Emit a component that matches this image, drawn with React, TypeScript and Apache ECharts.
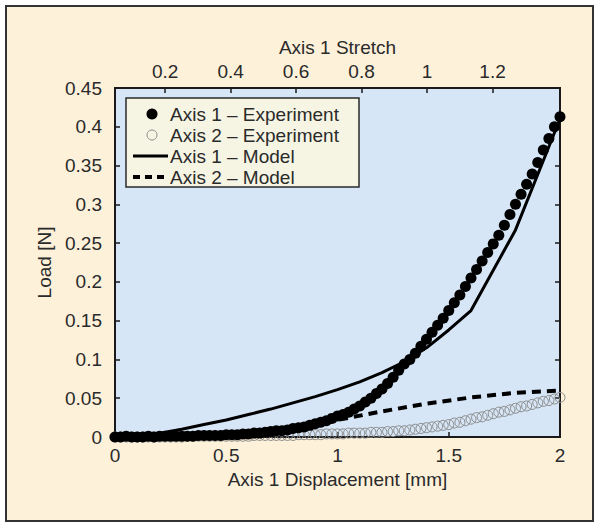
import React, { useEffect, useRef } from "react";
import * as echarts from "echarts";

const displacement = [
  0.0, 0.025, 0.05, 0.075, 0.1, 0.125, 0.15, 0.175, 0.2, 0.225,
  0.25, 0.275, 0.3, 0.325, 0.35, 0.375, 0.4, 0.425, 0.45, 0.475,
  0.5, 0.525, 0.55, 0.575, 0.6, 0.625, 0.65, 0.675, 0.7, 0.725,
  0.75, 0.775, 0.8, 0.825, 0.85, 0.875, 0.9, 0.925, 0.95, 0.975,
  1.0, 1.025, 1.05, 1.075, 1.1, 1.125, 1.15, 1.175, 1.2, 1.225,
  1.25, 1.275, 1.3, 1.325, 1.35, 1.375, 1.4, 1.425, 1.45, 1.475,
  1.5, 1.525, 1.55, 1.575, 1.6, 1.625, 1.65, 1.675, 1.7, 1.725,
  1.75, 1.775, 1.8, 1.825, 1.85, 1.875, 1.9, 1.925, 1.95, 1.975, 2.0,
];

const axis1Experiment = [
  0.0, 0.0, 0.001, 0.0, 0.0, 0.0, 0.001, 0.0, 0.001, 0.001,
  0.001, 0.001, 0.001, 0.001, 0.001, 0.002, 0.002, 0.002, 0.002, 0.002,
  0.003, 0.003, 0.003, 0.004, 0.004, 0.005, 0.005, 0.006, 0.007, 0.008,
  0.008, 0.009, 0.011, 0.012, 0.013, 0.015, 0.017, 0.019, 0.021, 0.024,
  0.027, 0.029, 0.032, 0.036, 0.04, 0.045, 0.05, 0.056, 0.062, 0.069,
  0.077, 0.086, 0.094, 0.1, 0.108, 0.117, 0.126, 0.135, 0.144, 0.153,
  0.163, 0.173, 0.183, 0.194, 0.205, 0.216, 0.227, 0.238, 0.249, 0.26,
  0.273, 0.287, 0.3, 0.313, 0.326, 0.339, 0.354, 0.37, 0.385, 0.4, 0.413,
];

const axis2Experiment = [
  0.0, 0.0, 0.0, 0.0, 0.0, 0.0, 0.0, 0.0, 0.0, 0.0,
  0.0, 0.0, 0.0, 0.001, 0.001, 0.001, 0.001, 0.001, 0.001, 0.001,
  0.001, 0.001, 0.001, 0.001, 0.001, 0.002, 0.002, 0.002, 0.002, 0.002,
  0.002, 0.002, 0.002, 0.003, 0.003, 0.003, 0.003, 0.003, 0.004, 0.004,
  0.004, 0.004, 0.005, 0.005, 0.005, 0.005, 0.006, 0.006, 0.006, 0.007,
  0.007, 0.008, 0.008, 0.009, 0.01, 0.011, 0.012, 0.013, 0.014, 0.015,
  0.016, 0.018, 0.019, 0.021, 0.023, 0.025, 0.026, 0.028, 0.03, 0.032,
  0.033, 0.035, 0.037, 0.039, 0.04, 0.042, 0.044, 0.046, 0.047, 0.049, 0.051,
];

const model1Displacement = [
  0, 0.1, 0.2, 0.3, 0.4, 0.5, 0.6, 0.7, 0.8, 0.9, 1.0,
  1.1, 1.2, 1.3, 1.4, 1.5, 1.6, 1.8, 2.0,
];
const axis1Model = [
  0, 0.001, 0.005, 0.01, 0.016, 0.022, 0.029, 0.036, 0.044, 0.052, 0.061,
  0.071, 0.083, 0.097, 0.115, 0.138, 0.163, 0.267, 0.41,
];
const model2Displacement = [0, 0.2, 0.4, 0.6, 0.8, 1.0, 1.2, 1.4, 1.6, 1.8, 2.0];
const axis2Model = [0, 0.001, 0.003, 0.007, 0.013, 0.022, 0.033, 0.043, 0.051, 0.057, 0.06];

const stretchTicks = [0.2, 0.4, 0.6, 0.8, 1, 1.2];
const stretchMin = 0.047;
const stretchMax = 1.406;

const legendLabels = [
  "Axis 1 \u2013 Experiment",
  "Axis 2 \u2013 Experiment",
  "Axis 1 \u2013 Model",
  "Axis 2 \u2013 Model",
];

const FONT = "'Liberation Sans', Arial, sans-serif";
const TXT = "#2a2a2a";
const FS = 19;

export default function App() {
  const ref = useRef<HTMLDivElement>(null);

  useEffect(() => {
    if (!ref.current) return;
    const chart = echarts.init(ref.current, undefined, { renderer: "svg" });
    const pair = (xs: number[], ys: number[]) => xs.map((x, i) => [x, ys[i]]);

    const lx = 126;
    const ly = 98;
    const rowY = [114, 135, 156, 177];
    const textX = 170;

    chart.setOption({
      animation: false,
      backgroundColor: "transparent",
      textStyle: { fontFamily: FONT, color: TXT },
      grid: {
        left: 115,
        right: 40,
        top: 88,
        bottom: 91,
        show: true,
        backgroundColor: "#d6e6f6",
        borderColor: "#1a1a1a",
        borderWidth: 2,
      },
      xAxis: [
        {
          type: "value",
          position: "bottom",
          min: 0,
          max: 2,
          interval: 0.5,
          name: "Axis 1 Displacement [mm]",
          nameLocation: "middle",
          nameGap: 30,
          nameTextStyle: { fontSize: FS, color: TXT, fontFamily: FONT },
          axisLine: { show: true, onZero: false, lineStyle: { color: "#1a1a1a", width: 2 } },
          axisTick: { show: true, inside: true, length: 5, lineStyle: { color: "#1a1a1a", width: 1.5 } },
          axisLabel: { fontSize: FS, color: TXT, margin: 9, fontFamily: FONT },
          splitLine: { show: false },
        },
        {
          type: "value",
          position: "top",
          min: stretchMin,
          max: stretchMax,
          name: "Axis 1 Stretch",
          nameLocation: "middle",
          nameGap: 31,
          nameTextStyle: { fontSize: FS, color: TXT, fontFamily: FONT },
          axisLine: { show: true, onZero: false, lineStyle: { color: "#1a1a1a", width: 2 } },
          axisTick: {
            show: true,
            inside: true,
            length: 5,
            customValues: stretchTicks,
            lineStyle: { color: "#1a1a1a", width: 1.5 },
          },
          axisLabel: {
            fontSize: FS,
            color: TXT,
            margin: 7,
            fontFamily: FONT,
            customValues: stretchTicks,
          },
          splitLine: { show: false },
        },
      ],
      yAxis: [
        {
          type: "value",
          position: "left",
          min: 0,
          max: 0.45,
          interval: 0.05,
          name: "Load [N]",
          nameLocation: "middle",
          nameGap: 60,
          nameTextStyle: { fontSize: FS, color: TXT, fontFamily: FONT },
          axisLine: { show: true, onZero: false, lineStyle: { color: "#1a1a1a", width: 2 } },
          axisTick: { show: true, inside: true, length: 5, lineStyle: { color: "#1a1a1a", width: 1.5 } },
          axisLabel: { fontSize: FS, color: TXT, margin: 13, fontFamily: FONT },
          splitLine: { show: false },
        },
        {
          type: "value",
          position: "right",
          min: 0,
          max: 0.45,
          interval: 0.05,
          axisLine: { show: true, onZero: false, lineStyle: { color: "#1a1a1a", width: 2 } },
          axisTick: { show: true, inside: true, length: 5, lineStyle: { color: "#1a1a1a", width: 1.5 } },
          axisLabel: { show: false },
          splitLine: { show: false },
        },
      ],
      series: [
        {
          name: legendLabels[3],
          type: "line",
          xAxisIndex: 0,
          yAxisIndex: 0,
          data: pair(model2Displacement, axis2Model),
          showSymbol: false,
          symbol: "none",
          lineStyle: { color: "#000", width: 4, type: [9, 6] },
          z: 2,
        },
        {
          name: legendLabels[1],
          type: "scatter",
          xAxisIndex: 0,
          yAxisIndex: 0,
          data: pair(displacement, axis2Experiment),
          symbol: "circle",
          symbolSize: 10,
          itemStyle: { color: "rgba(0,0,0,0)", borderColor: "#8a8a8a", borderWidth: 1, opacity: 1 },
          z: 3,
        },
        {
          name: legendLabels[2],
          type: "line",
          xAxisIndex: 0,
          yAxisIndex: 0,
          data: pair(model1Displacement, axis1Model),
          showSymbol: false,
          symbol: "none",
          lineStyle: { color: "#000", width: 3 },
          z: 4,
        },
        {
          name: legendLabels[0],
          type: "scatter",
          xAxisIndex: 0,
          yAxisIndex: 0,
          data: pair(displacement, axis1Experiment),
          symbol: "circle",
          symbolSize: 11,
          itemStyle: { color: "#000", opacity: 1 },
          z: 5,
        },
      ],
      graphic: {
        elements: [
          {
            type: "rect",
            z: 100,
            shape: { x: lx, y: ly, width: 233, height: 89 },
            style: { fill: "#f6f5e4", stroke: "#2a2a2a", lineWidth: 1.5 },
          },
          {
            type: "circle",
            z: 101,
            shape: { cx: 152, cy: rowY[0], r: 5.5 },
            style: { fill: "#000" },
          },
          {
            type: "circle",
            z: 101,
            shape: { cx: 152, cy: rowY[1], r: 5 },
            style: { fill: "none", stroke: "#8a8a8a", lineWidth: 1 },
          },
          {
            type: "line",
            z: 101,
            shape: { x1: 133, y1: rowY[2], x2: 168, y2: rowY[2] },
            style: { stroke: "#000", lineWidth: 3 },
          },
          {
            type: "line",
            z: 101,
            shape: { x1: 133, y1: rowY[3], x2: 168, y2: rowY[3] },
            style: { stroke: "#000", lineWidth: 4, lineDash: [7, 5] },
          },
          ...legendLabels.map((t, i) => ({
            type: "text",
            z: 101,
            x: textX,
            y: rowY[i],
            style: {
              text: t,
              fontSize: FS,
              fontFamily: FONT,
              fill: TXT,
              textVerticalAlign: "middle",
              verticalAlign: "middle",
            },
          })),
        ],
      },
    });

    return () => chart.dispose();
  }, []);

  return (
    <div
      style={{
        position: "fixed",
        left: 0,
        top: 0,
        width: 600,
        height: 528,
        background: "#ffffff",
      }}
    >
      <div
        style={{
          position: "absolute",
          left: 5,
          top: 5,
          width: 589,
          height: 517,
          boxSizing: "border-box",
          background: "#fef1da",
          border: "2px solid #333",
        }}
      />
      <div
        ref={ref}
        style={{ position: "absolute", left: 0, top: 0, width: 600, height: 528 }}
      />
    </div>
  );
}
